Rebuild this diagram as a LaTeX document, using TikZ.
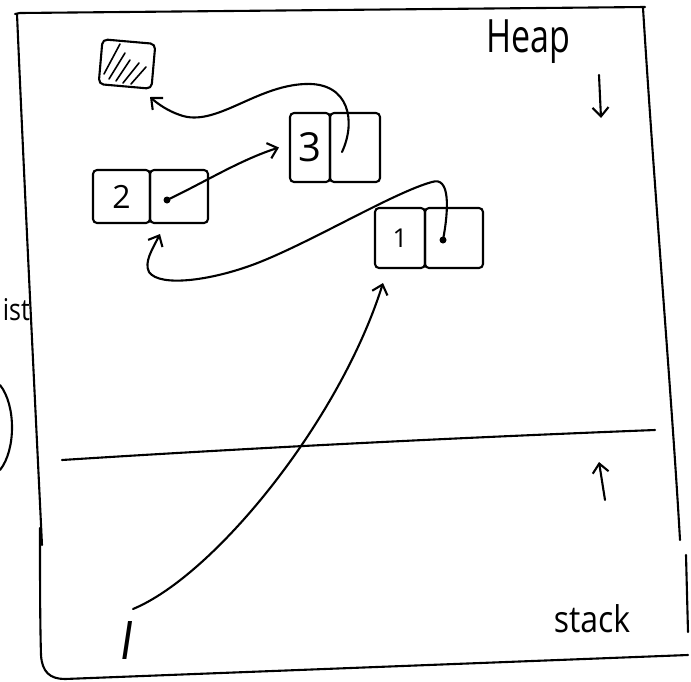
\documentclass[tikz,border=0pt]{standalone}
\usepackage{fontspec}
\setmainfont{Open Sans}
\usetikzlibrary{arrows.meta,calc}

\begin{document}
\begin{tikzpicture}[x=1pt,y=-1pt,
  line width=2.1pt, line cap=round, line join=round,
  arr/.style={-{Straight Barb[length=9pt,width=16pt,line width=2.1pt]}},
  cell/.style={draw, rounded corners=4pt, inner sep=0pt, font=\fontsize{32}{32}\selectfont},
  label/.style={inner sep=0pt, font=\fontsize{30}{30}\selectfont}]

\useasboundingbox (0,0) rectangle (691,681);

% memory frame
\draw (15,14) -- (20,13) -- (645,7);
\draw (17,14) .. controls (25,200) and (35,400) .. (42,545);
\draw (40,528) .. controls (40,580) and (40,620) .. (41,655)
      .. controls (42,672) and (50,679) .. (65,679) -- (688,655);
\draw (643,8) .. controls (655,200) and (672,400) .. (680,540);
\draw (686,555) -- (688,632);

% heap / stack divider
\draw (62,460) .. controls (250,448) and (450,438) .. (655,430);

% region labels and growth directions
\node[label, font=\fontsize{34}{34}\selectfont, yscale=1.35] (heap) at (528,42) {Heap};
\node[label, font=\fontsize{32}{32}\selectfont, yscale=1.15] (stack) at (592,619) {stack};
\coordinate (hd0) at (599,75);
\coordinate (hd1) at (601,118);
\draw[arr] (hd0) -- (hd1);
\coordinate (su0) at (605,500);
\coordinate (su1) at (599,462);
\draw[arr] (su0) -- (su1);

% text at the left edge
\node[label, font=\fontsize{25}{25}\selectfont, yscale=1.2, anchor=east] (side) at (31,310) {ist};
\draw (0,385) .. controls (16,405) and (16,450) .. (0,470);

% freed block
\node[draw, rounded corners=5pt, minimum width=53pt, minimum height=45pt, rotate=-5] (free) at (127,64) {};
\draw[line width=1.6pt] (104,74) -- (120,44)
      (109,79) -- (125,53)
      (116,81) -- (130,60)
      (123,83) -- (139,63)
      (131,84) -- (146,67);

% list cells
\node[cell, minimum width=57pt, minimum height=53pt] (n2val) at (121.5,196.5) {2};
\node[cell, minimum width=58pt, minimum height=53pt] (n2ptr) at (179,196.5) {};
\node[cell, minimum width=40pt, minimum height=69pt, font=\fontsize{40}{40}\selectfont] (n3val) at (310,147.5) {3};
\node[cell, minimum width=50pt, minimum height=69pt] (n3ptr) at (355,147.5) {};
\node[cell, minimum width=50pt, minimum height=60pt, font=\fontsize{26}{26}\selectfont] (n1val) at (400,238) {1};
\node[cell, minimum width=58pt, minimum height=60pt] (n1ptr) at (454,238) {};

% pointer origins and arrow ends
\coordinate (d2) at (167,200);
\coordinate (d3) at (342,152);
\coordinate (d1) at (443,240);
\coordinate (n2in) at (160,234);
\coordinate (n1in) at (383,283);
\coordinate (freein) at (150,97);
\fill (d2) circle (3.5pt);
\fill (d1) circle (3.5pt);

% pointers
\draw[arr] (d2) .. controls (205,182) and (240,160) .. ([xshift=-10pt]n3val.west);
\draw[arr] (d3) .. controls (356,122) and (350,82) .. (305,84)
      .. controls (255,86) and (215,128) .. (180,115)
      .. controls (168,111) and (158,104) .. (freein);
\draw[arr] (d1) .. controls (449,208) and (450,176) .. (432,182)
      .. controls (395,192) and (315,240) .. (260,262)
      .. controls (215,280) and (160,288) .. (149,272)
      .. controls (144,262) and (152,250) .. (n2in);

% local variable on the stack
\node[inner sep=0pt, font=\fontsize{50}{50}\selectfont, xslant=0.15] (lvar) at (128,640) {l};
\draw[arr] (133,609) .. controls (215,575) and (340,420) .. (n1in);
\end{tikzpicture}
\end{document}
